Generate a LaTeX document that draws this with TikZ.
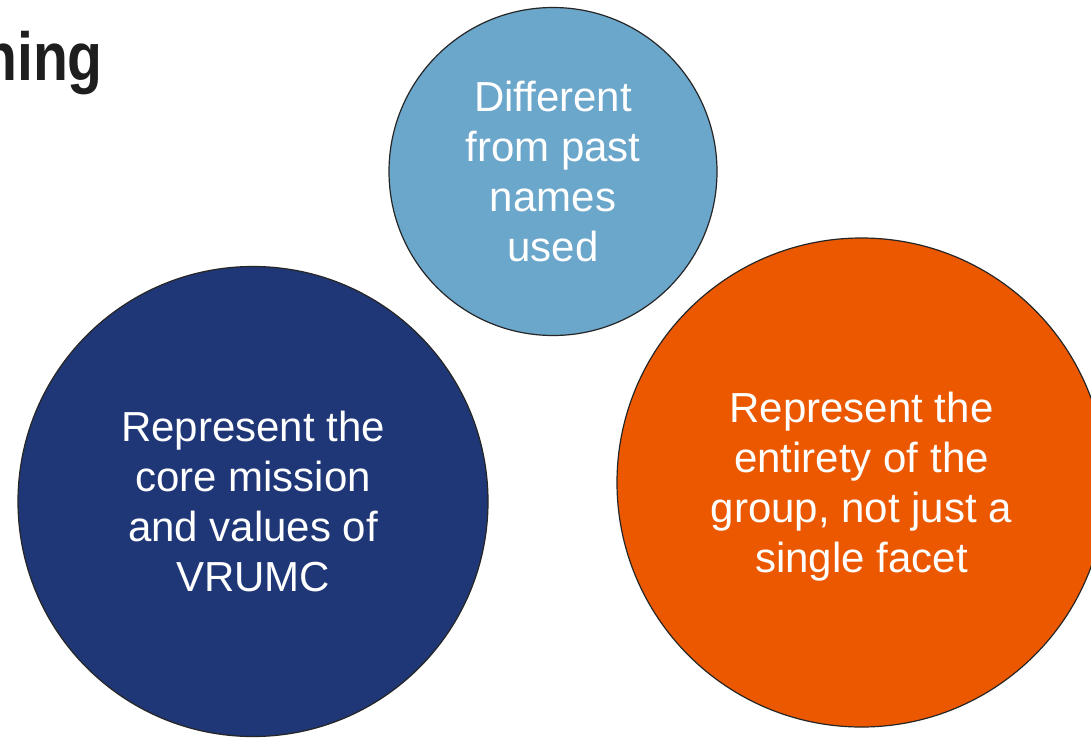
\documentclass[tikz,border=0pt]{standalone}
\usepackage{fontspec}
\setmainfont{Liberation Sans}
\definecolor{lightblue}{HTML}{6BA6CB}
\definecolor{darkblue}{HTML}{1F3777}
\definecolor{orangefill}{HTML}{EB5800}
\definecolor{titlegray}{HTML}{1E1E1E}
\tikzset{
  bubble/.style={circle, draw=black!85, line width=1.2pt, inner sep=0pt,
    text=white, align=center, font=\fontsize{42}{50}\selectfont, text depth=0pt},
  titletext/.style={inner sep=0pt, text=titlegray, font=\fontsize{68}{80}\selectfont\bfseries}
}
\begin{document}
\begin{tikzpicture}[x=1pt,y=-1pt]
\useasboundingbox (0,0) rectangle (1091,737);
\clip (0,0) rectangle (1091,737);
\fill[white] (0,0) rectangle (1091,737);
\node[titletext, anchor=base east] (title) at (103,80) {\scalebox{0.84}[1]{ning}};
\node[bubble, fill=lightblue, minimum size=328pt] (past) at (553,171.5)
  {Different\\from past\\names\\used};
\node[bubble, fill=darkblue, minimum size=470pt] (core) at (253,501.5)
  {Represent the\\core mission\\and values of\\VRUMC};
\node[bubble, fill=orangefill, minimum size=489pt] (whole) at (861.5,482.5)
  {Represent the\\entirety of the\\group, not just a\\single facet};
\end{tikzpicture}
\end{document}
